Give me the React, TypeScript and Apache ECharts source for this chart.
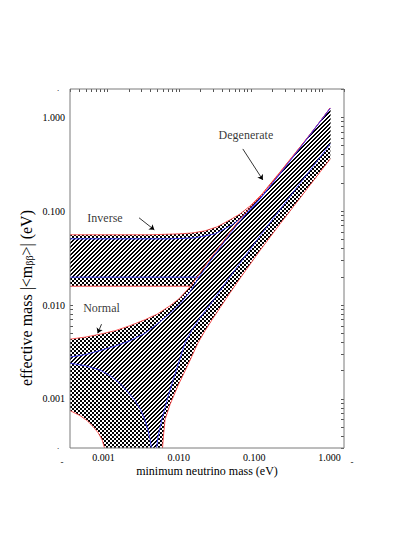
import React, { useEffect, useRef } from 'react';
import * as echarts from 'echarts';

// ---------------- axis ranges & ticks ----------------
const X_MIN = 0.0003;
const X_MAX = 2;
const Y_MIN = 0.0003;
const Y_MAX = 2;
// the printed x labels sit on a slightly wider scale than the tick marks
const X_LABEL_MIN = 0.000359;
const X_LABEL_MAX = 1.557;
const DECADES = [0.0001, 0.001, 0.01, 0.1, 1];
const MAJOR_LABELS = [0.001, 0.01, 0.1, 1];
const MINOR_STEPS = [1, 2, 3, 4, 5, 6, 7, 8, 9];
// left frame only carries ticks in this decade
const LEFT_TICK_RANGE = [0.001, 0.01];

// ---------------- Inverse hierarchy ----------------
const IH_OUTER_UPPER: [number, number][] = [
  [0.0003, 0.056], [0.0039, 0.056], [0.0103, 0.0573], [0.0157, 0.0587], [0.023, 0.0617],
  [0.0339, 0.068], [0.0515, 0.0808], [0.071, 0.0934], [0.098, 0.1138], [0.1441, 0.1528],
  [0.257, 0.262], [0.489, 0.483], [0.792, 0.769], [1.283, 1.256],
];
const IH_OUTER_LOWER: [number, number][] = [
  [0.0003, 0.01585], [0.0142, 0.01585], [0.02, 0.0166], [0.03, 0.0186], [0.05, 0.0226],
  [0.1, 0.033], [0.3, 0.085], [1.283, 0.36],
];
const IH_INNER_UPPER: [number, number][] = [
  [0.0003, 0.0507], [0.0075, 0.0507], [0.0167, 0.052], [0.0318, 0.0573], [0.0549, 0.0714],
  [0.0834, 0.0914], [0.1151, 0.1167], [0.1585, 0.1566], [0.257, 0.2553], [0.489, 0.477],
  [1.283, 1.25],
];
const IH_INNER_LOWER: [number, number][] = [
  [0.0003, 0.0198], [0.0189, 0.0198], [0.03, 0.0235], [0.05, 0.029], [0.1, 0.046],
  [0.3, 0.124], [1.283, 0.52],
];
const IH_OUTER_LOWER_VISIBLE_TO = 0.0142;
const IH_INNER_LOWER_VISIBLE_TO = 0.0189;

// ---------------- Normal hierarchy ----------------
const NH_OUTER_UPPER: [number, number][] = [
  [0.0003, 0.00433], [0.000486, 0.00455], [0.000787, 0.00489], [0.00128, 0.00533],
  [0.00207, 0.00603], [0.00335, 0.00698], [0.00492, 0.00798], [0.00747, 0.00983],
  [0.00998, 0.01167], [0.01422, 0.01566], [0.01839, 0.02049], [0.02705, 0.03108],
  [0.03732, 0.04273], [0.05146, 0.06025], [0.07099, 0.08285], [0.0979, 0.1098],
  [0.135, 0.142], [0.1863, 0.1905], [0.257, 0.2587], [0.4888, 0.4831], [0.7918, 0.7694],
  [1.283, 1.2556],
];
const NH_OUTER_LOWER: [number, number][] = [
  [0.0003, 0.000751], [0.000414, 0.000664], [0.000518, 0.000588], [0.000629, 0.000508],
  [0.000738, 0.000438], [0.000839, 0.000369], [0.000909, 0.0003], [0.000939, 0.0001],
  [0.00569, 0.0001], [0.00587, 0.0003], [0.00607, 0.000417], [0.00637, 0.000603],
  [0.00747, 0.00087], [0.00967, 0.00139], [0.01334, 0.00232], [0.01839, 0.00397],
  [0.02304, 0.00533], [0.02884, 0.00698], [0.03732, 0.00936], [0.05146, 0.01351],
  [0.07099, 0.01928], [0.135, 0.03828], [0.257, 0.0733], [0.4888, 0.1385], [0.93, 0.2618],
  [1.283, 0.3599],
];
const NH_INNER_UPPER: [number, number][] = [
  [0.0003, 0.00279], [0.000486, 0.00296], [0.000787, 0.00327], [0.00128, 0.00365],
  [0.00207, 0.00417], [0.00335, 0.00501], [0.00542, 0.00664], [0.00747, 0.00818],
  [0.01031, 0.01032], [0.01422, 0.01385], [0.01839, 0.01905], [0.02705, 0.02923],
  [0.03732, 0.04071], [0.05146, 0.05734], [0.07099, 0.07882], [0.0979, 0.1045],
  [0.135, 0.1368], [0.1863, 0.1836], [0.257, 0.2493], [0.4888, 0.4716], [1.283, 1.24],
];
const NH_INNER_LOWER: [number, number][] = [
  [0.0003, 0.0024], [0.000486, 0.00226], [0.000787, 0.00203], [0.00109, 0.00177],
  [0.0015, 0.00146], [0.00194, 0.00118], [0.00243, 0.000959], [0.00294, 0.000751],
  [0.00335, 0.000588], [0.00369, 0.00046], [0.00393, 0.000369], [0.00412, 0.0003],
  [0.00426, 0.0001], [0.00469, 0.0001], [0.00484, 0.0003], [0.00508, 0.000397],
  [0.00542, 0.000495], [0.00578, 0.000617], [0.00637, 0.000808], [0.00701, 0.00106],
  [0.00797, 0.00146], [0.00936, 0.00215], [0.01211, 0.00397], [0.01517, 0.00546],
  [0.01962, 0.00733], [0.02705, 0.01007], [0.04676, 0.01813], [0.135, 0.0546],
  [0.3323, 0.1351], [0.6324, 0.2556], [1.283, 0.52],
];

// ---------------- annotations ----------------
const LABEL_NAMES = ['Inverse', 'Normal', 'Degenerate'];
const LABEL_POS: [number, number][] = [[0.000924, 0.0842], [0.000826, 0.00925], [0.0855, 0.648]];
const ARROWS: [number, number][][] = [
  [[0.00276, 0.0849], [0.00451, 0.0632]],
  [[0.000826, 0.00625], [0.000731, 0.00501]],
  [[0.0774, 0.46], [0.1473, 0.2153]],
];

const FONT = '"Liberation Serif", "DejaVu Serif", serif';
const RED = '#ff4040';
const BLUE = '#3333ff';

function makeChecker(): HTMLCanvasElement {
  const c = document.createElement('canvas');
  c.width = 4;
  c.height = 4;
  const g = c.getContext('2d')!;
  g.fillStyle = '#fff';
  g.fillRect(0, 0, 4, 4);
  g.fillStyle = '#000';
  g.fillRect(0, 0, 2, 2);
  g.fillRect(2, 2, 2, 2);
  return c;
}

function makeHatch(): HTMLCanvasElement {
  const n = 4;
  const c = document.createElement('canvas');
  c.width = n;
  c.height = n;
  const g = c.getContext('2d')!;
  g.fillStyle = '#fff';
  g.fillRect(0, 0, n, n);
  g.fillStyle = '#000';
  for (let x = 0; x < n; x++) {
    for (let y = 0; y < n; y++) {
      if ((x + y) % n < 2) g.fillRect(x, y, 1, 1);
    }
  }
  return c;
}

function logTicks(): number[] {
  const out: number[] = [];
  DECADES.forEach((d) => MINOR_STEPS.forEach((k) => out.push(+(d * k).toPrecision(3))));
  out.push(1);
  return out;
}

export default function App() {
  const ref = useRef<HTMLDivElement>(null);

  useEffect(() => {
    if (!ref.current) return;
    const chart = echarts.init(ref.current, null, { renderer: 'svg' });
    const checker = { image: makeChecker(), repeat: 'repeat' as const };
    const hatch = { image: makeHatch(), repeat: 'repeat' as const };
    const ticks = logTicks();
    const xTicks = ticks.filter((v) => v >= X_MIN && v <= X_MAX);
    const yTicks = ticks.filter((v) => v >= Y_MIN && v <= Y_MAX);
    const leftTicks = ticks.filter((v) => v >= LEFT_TICK_RANGE[0] && v <= LEFT_TICK_RANGE[1]);

    const renderBands = (params: any, api: any) => {
      const cs = params.coordSys;
      const pts = (arr: [number, number][]) => arr.map((p) => api.coord(p));
      const poly = (upper: [number, number][], lower: [number, number][], fill: any) => ({
        type: 'polygon',
        shape: { points: [...pts(upper), ...pts(lower).reverse()] },
        style: { fill, stroke: null },
        silent: true,
      });
      const line = (arr: [number, number][], color: string, upTo?: number) => ({
        type: 'polyline',
        shape: { points: pts(upTo ? arr.filter((p) => p[0] <= upTo) : arr) },
        style: { stroke: color, lineWidth: 0.85, fill: null },
        silent: true,
      });
      return {
        type: 'group',
        clipPath: { type: 'rect', shape: { x: cs.x, y: cs.y, width: cs.width, height: cs.height } },
        children: [
          poly(IH_OUTER_UPPER, IH_OUTER_LOWER, checker),
          poly(NH_OUTER_UPPER, NH_OUTER_LOWER, checker),
          poly(IH_INNER_UPPER, IH_INNER_LOWER, hatch),
          poly(NH_INNER_UPPER, NH_INNER_LOWER, hatch),
          line(IH_OUTER_UPPER, RED),
          line(IH_INNER_UPPER, BLUE),
          line(IH_INNER_LOWER, BLUE, IH_INNER_LOWER_VISIBLE_TO),
          line(IH_OUTER_LOWER, RED, IH_OUTER_LOWER_VISIBLE_TO),
          line(NH_OUTER_UPPER, RED),
          line(NH_OUTER_LOWER, RED),
          line(NH_INNER_UPPER, BLUE),
          line(NH_INNER_LOWER, BLUE),
        ],
      };
    };

    const axisCommon = {
      type: 'log' as const,
      logBase: 10,
      splitLine: { show: false },
      axisLine: { show: false },
    };

    chart.setOption({
      animation: false,
      backgroundColor: '#ffffff',
      textStyle: { fontFamily: FONT },
      grid: {
        left: 70, top: 89, width: 274, height: 359,
        show: true, borderColor: '#7a7a7a', borderWidth: 1, backgroundColor: 'transparent', z: 6,
      },
      xAxis: [
        {
          ...axisCommon, position: 'bottom', min: X_MIN, max: X_MAX,
          axisTick: { show: false },
          axisLabel: { show: false },
          name: 'minimum neutrino mass (eV)', nameLocation: 'middle', nameGap: 17,
          nameTextStyle: { fontSize: 12, color: '#000', fontFamily: FONT },
        },
        {
          ...axisCommon, position: 'top', min: X_MIN, max: X_MAX,
          axisTick: { show: true, inside: true, length: 3, customValues: xTicks, lineStyle: { color: '#555' } },
          axisLabel: { show: false },
        },
        {
          ...axisCommon, position: 'bottom', min: X_LABEL_MIN, max: X_LABEL_MAX,
          axisTick: { show: false },
          axisLabel: {
            customValues: MAJOR_LABELS, fontSize: 10, color: '#000', margin: 4, fontFamily: FONT,
            formatter: (v: number) => v.toFixed(3),
          },
        },
      ],
      yAxis: [
        {
          ...axisCommon, position: 'left', min: Y_MIN, max: Y_MAX,
          axisTick: { show: true, inside: true, length: 3, customValues: leftTicks, lineStyle: { color: '#555' } },
          axisLabel: {
            customValues: MAJOR_LABELS, fontSize: 10, color: '#000', margin: 5, fontFamily: FONT,
            formatter: (v: number) => v.toFixed(3),
          },
        },
        {
          ...axisCommon, position: 'right', min: Y_MIN, max: Y_MAX,
          axisTick: { show: true, inside: true, length: 3, customValues: yTicks, lineStyle: { color: '#555' } },
          axisLabel: { show: false },
        },
      ],
      graphic: [
        {
          type: 'text', x: 26, y: 298, rotation: Math.PI / 2,
          style: {
            text: 'effective mass |<m{sub|ββ}>| (eV)',
            fontSize: 16, fontFamily: FONT, fill: '#000', align: 'center', verticalAlign: 'middle',
            rich: { sub: { fontSize: 10, fontFamily: FONT, padding: [7, 0, 0, 0] } },
          },
        },
        { type: 'text', x: 62, y: 462, style: { text: '-', fontSize: 9, fontFamily: FONT, fill: '#000', align: 'center', verticalAlign: 'middle' } },
        { type: 'text', x: 352, y: 462, style: { text: '-', fontSize: 9, fontFamily: FONT, fill: '#000', align: 'center', verticalAlign: 'middle' } },
        { type: 'text', x: 58, y: 88, style: { text: '.', fontSize: 9, fontFamily: FONT, fill: '#000', align: 'center', verticalAlign: 'middle' } },
        { type: 'text', x: 58, y: 446, style: { text: '.', fontSize: 9, fontFamily: FONT, fill: '#000', align: 'center', verticalAlign: 'middle' } },
      ],
      series: [
        {
          type: 'custom', xAxisIndex: 0, yAxisIndex: 0, silent: true, z: 2,
          data: [[0.01, 0.01]],
          renderItem: renderBands,
        },
        {
          type: 'lines', coordinateSystem: 'cartesian2d', xAxisIndex: 0, yAxisIndex: 0, z: 7,
          symbol: ['none', 'arrow'], symbolSize: [0, 5],
          lineStyle: { color: '#000', width: 0.8, opacity: 1 },
          data: ARROWS.map((c) => ({ coords: c })),
        },
        {
          type: 'scatter', xAxisIndex: 0, yAxisIndex: 0, symbolSize: 0, z: 7,
          data: LABEL_NAMES.map((n, i) => ({ name: n, value: LABEL_POS[i] })),
          label: {
            show: true, position: 'inside', formatter: (p: any) => p.name,
            fontSize: 12, fontFamily: FONT, color: '#000',
          },
        },
      ],
    });
    return () => chart.dispose();
  }, []);

  return <div ref={ref} style={{ position: 'fixed', left: 0, top: 0, width: 415, height: 537 }} />;
}
